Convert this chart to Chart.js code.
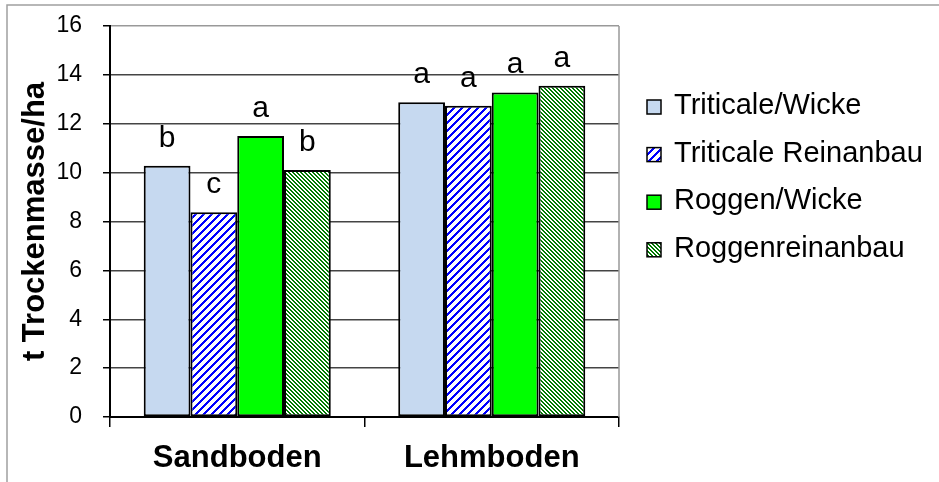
<!DOCTYPE html>
<html>
<head>
<meta charset="utf-8">
<script src="https://cdn.jsdelivr.net/npm/chart.js@4.4.1/dist/chart.umd.min.js"></script>
<style>
  html, body { margin: 0; padding: 0; background: #fff; }
  canvas { display: block; }
</style>
</head>
<body>
<canvas id="chart" width="939" height="482"></canvas>
<script>
// Data
const categories = ['Sandboden', 'Lehmboden'];
const seriesNames = ['Triticale/Wicke', 'Triticale Reinanbau', 'Roggen/Wicke', 'Roggenreinanbau'];
const triticaleWicke = [10.28, 12.88];
const triticaleRein = [8.38, 12.74];
const roggenWicke = [11.5, 13.28];
const roggenRein = [10.11, 13.56];
// significance letters shown above the bars
const lettersTriticaleWicke = ['b', 'a'];
const lettersTriticaleRein = ['c', 'a'];
const lettersRoggenWicke = ['a', 'a'];
const lettersRoggenRein = ['b', 'a'];
const yTicks = [0, 2, 4, 6, 8, 10, 12, 14, 16];

const FONT = "'Liberation Sans', Arial, sans-serif";

// pixel-based diagonal stripe pattern
function stripePattern(color, size, thick, upward) {
  const c = document.createElement('canvas');
  c.width = size;
  c.height = size;
  const g = c.getContext('2d');
  g.fillStyle = '#fff';
  g.fillRect(0, 0, size, size);
  g.fillStyle = color;
  for (let y = 0; y < size; y++) {
    for (let x = 0; x < size; x++) {
      const k = upward ? (x + y) % size : ((x - y) % size + size) % size;
      if (k < thick) g.fillRect(x, y, 1, 1);
    }
  }
  return g.createPattern(c, 'repeat');
}

const blueStripes = stripePattern('#0000ff', 8, 3, true);
const greenStripes = stripePattern('#007a00', 4, 2, false);

const fills = ['#c6d9f0', blueStripes, '#00ff00', greenStripes];
const letters = [lettersTriticaleWicke, lettersTriticaleRein, lettersRoggenWicke, lettersRoggenRein];

// frame, plot border, letters and legend
const decorations = {
  id: 'decorations',
  beforeDraw(chart) {
    const ctx = chart.ctx;
    ctx.save();
    ctx.fillStyle = '#fff';
    ctx.fillRect(0, 0, chart.width, chart.height);
    ctx.strokeStyle = '#a0a0a0';
    ctx.lineWidth = 1.5;
    ctx.beginPath();
    ctx.moveTo(7, chart.height);
    ctx.lineTo(7, 5);
    ctx.lineTo(chart.width, 5);
    ctx.stroke();
    ctx.restore();
  },
  afterDraw(chart) {
    const ctx = chart.ctx;
    const area = chart.chartArea;
    ctx.save();
    // right border of plot
    ctx.strokeStyle = '#999';
    ctx.lineWidth = 1.5;
    ctx.beginPath();
    ctx.moveTo(area.right, area.top);
    ctx.lineTo(area.right, area.bottom);
    ctx.stroke();

    // letters above bars
    ctx.fillStyle = '#000';
    ctx.font = '30px ' + FONT;
    ctx.textAlign = 'center';
    ctx.textBaseline = 'alphabetic';
    chart.data.datasets.forEach((ds, i) => {
      chart.getDatasetMeta(i).data.forEach((bar, j) => {
        ctx.fillText(letters[i][j], bar.x, bar.y - 19);
      });
    });

    // legend
    const boxX = 647;
    const textX = 674;
    const firstY = 107;
    const step = 47.6;
    ctx.font = '29px ' + FONT;
    ctx.textAlign = 'left';
    ctx.textBaseline = 'middle';
    chart.data.datasets.forEach((ds, i) => {
      const cy = firstY + i * step;
      ctx.fillStyle = ds.backgroundColor;
      ctx.fillRect(boxX, cy - 7, 14, 14);
      ctx.strokeStyle = '#000';
      ctx.lineWidth = 1.5;
      ctx.strokeRect(boxX, cy - 7, 14, 14);
      ctx.fillStyle = '#000';
      ctx.fillText(ds.label, textX, cy - 1);
    });
    ctx.restore();
  }
};

const datasets = [triticaleWicke, triticaleRein, roggenWicke, roggenRein].map((values, i) => ({
  label: seriesNames[i],
  data: values,
  backgroundColor: fills[i],
  borderColor: '#000',
  borderWidth: 2,
  borderSkipped: false
}));

new Chart(document.getElementById('chart'), {
  type: 'bar',
  data: { labels: categories, datasets },
  options: {
    responsive: false,
    animation: false,
    layout: { padding: { top: 26, right: 320, left: 0, bottom: 0 } },
    datasets: {
      bar: { categoryPercentage: 0.735, barPercentage: 1 }
    },
    plugins: {
      legend: { display: false },
      tooltip: { enabled: false }
    },
    scales: {
      x: {
        afterFit(scale) { scale.height = 65; },
        grid: {
          display: true,
          drawOnChartArea: false,
          drawTicks: true,
          tickLength: 10,
          offset: true,
          color: '#000',
          lineWidth: 1.5
        },
        border: { color: '#000', width: 2 },
        ticks: {
          color: '#000',
          padding: 13,
          font: { family: FONT, size: 31, weight: 'bold' }
        }
      },
      y: {
        min: 0,
        max: 16,
        afterFit(scale) {
          scale.width = 110;
          scale.paddingTop = 0;
          scale.paddingBottom = 0;
        },
        afterBuildTicks(scale) { scale.ticks = yTicks.map(v => ({ value: v })); },
        grid: {
          color: ctx => (ctx.tick && ctx.tick.value === 16 ? '#999' : '#444'),
          tickColor: '#000',
          lineWidth: 1.5,
          tickLength: 7
        },
        border: { color: '#000', width: 2 },
        ticks: {
          color: '#000',
          padding: 21,
          font: { family: FONT, size: 23 }
        },
        title: {
          display: true,
          text: 't Trockenmasse/ha',
          color: '#000',
          padding: { top: 17, bottom: 0 },
          font: { family: FONT, size: 31, weight: 'bold' }
        }
      }
    }
  },
  plugins: [decorations]
});
</script>
</body>
</html>
